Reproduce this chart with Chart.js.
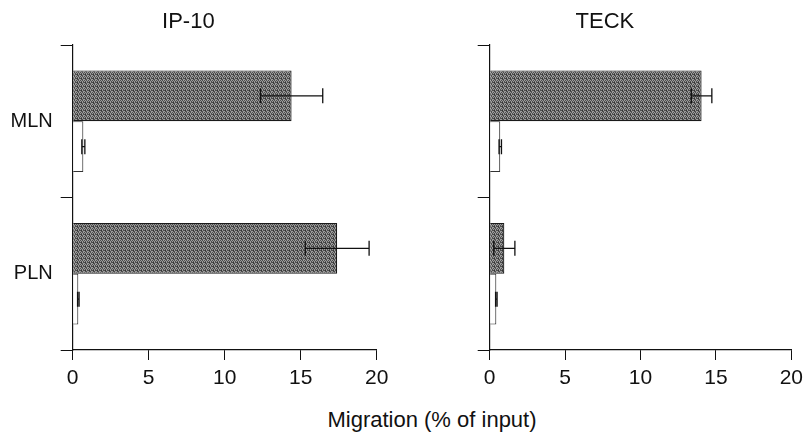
<!DOCTYPE html>
<html>
<head>
<meta charset="utf-8">
<script src="https://cdn.jsdelivr.net/npm/chart.js@4.4.1/dist/chart.umd.min.js"></script>
<style>
  html, body { margin: 0; padding: 0; background: #fff; overflow: hidden; }
  body { width: 809px; height: 433px; position: relative; font-family: "Liberation Sans", Arial, sans-serif; }
  canvas { position: absolute; top: 0; }
  #ipCanvas { left: 0; }
  #teckCanvas { left: 417px; }
  #xTitle { position: absolute; left: 0; width: 864px; top: 407px; text-align: center; font-size: 22px; color: #111; }
</style>
</head>
<body>
<canvas id="ipCanvas" width="404" height="400"></canvas>
<canvas id="teckCanvas" width="392" height="400"></canvas>
<div id="xTitle">Migration (% of input)</div>
<script>
// values (% of input)
const categories = ['MLN', 'PLN'];
const ip10Chemokine = [14.4, 17.4];
const ip10ChemokineErr = [2.05, 2.1];
const ip10Control = [0.7, 0.37];
const ip10ControlErr = [0.1, 0.05];
const teckChemokine = [14.05, 0.97];
const teckChemokineErr = [0.68, 0.7];
const teckControl = [0.7, 0.44];
const teckControlErr = [0.08, 0.05];
const xMin = 0, xMax = 20, xStep = 5;

// dithered grey, a bit like the halftone in the scan
function makeGreyPattern() {
    const c = document.createElement('canvas');
    c.width = 4; c.height = 4;
    const g = c.getContext('2d');
    g.fillStyle = '#9c9c9c';
    g.fillRect(0, 0, 4, 4);
    g.fillStyle = '#4e4e4e';
    [[0,0],[2,0],[1,1],[3,1],[0,2],[2,3],[1,3],[3,2]].forEach(p => g.fillRect(p[0], p[1], 1, 1));
    g.fillStyle = '#333';
    g.fillRect(1, 2, 1, 1);
    return g.createPattern(c, 'repeat');
}
const greyFill = makeGreyPattern();

const errorBars = {
    id: 'errorBars',
    afterDatasetsDraw(chart) {
        const ctx = chart.ctx;
        const xs = chart.scales.x;
        chart.data.datasets.forEach((ds, i) => {
            const meta = chart.getDatasetMeta(i);
            meta.data.forEach((bar, j) => {
                const v = ds.data[j], e = ds.errors[j];
                const x1 = xs.getPixelForValue(v - e);
                const x2 = xs.getPixelForValue(v + e);
                const y = bar.y;
                ctx.save();
                ctx.strokeStyle = '#111';
                ctx.lineWidth = 1.3;
                ctx.beginPath();
                ctx.moveTo(x1, y); ctx.lineTo(x2, y);
                ctx.moveTo(x1, y - 7.5); ctx.lineTo(x1, y + 7.5);
                ctx.moveTo(x2, y - 7.5); ctx.lineTo(x2, y + 7.5);
                ctx.stroke();
                ctx.restore();
            });
        });
    }
};

function makePanel(canvasId, title, chemo, chemoErr, ctrl, ctrlErr, showLabels, dashed, padRight) {
    return new Chart(document.getElementById(canvasId), {
        type: 'bar',
        data: {
            labels: categories,
            datasets: [{
                label: 'Chemokine',
                data: chemo,
                errors: chemoErr,
                backgroundColor: greyFill,
                borderColor: '#1a1a1a',
                borderWidth: 1.2,
                categoryPercentage: 0.667,
                barPercentage: 1.0
            }, {
                label: 'Control',
                data: ctrl,
                errors: ctrlErr,
                backgroundColor: '#ffffff',
                borderColor: '#333333',
                borderWidth: 1.1,
                categoryPercentage: 0.667,
                barPercentage: 1.0
            }]
        },
        options: {
            indexAxis: 'y',
            responsive: false,
            animation: false,
            devicePixelRatio: 1,
            layout: { padding: { left: 0, right: padRight, top: 0, bottom: 0 } },
            plugins: {
                legend: { display: false },
                tooltip: { enabled: false },
                title: {
                    display: true,
                    text: title,
                    color: '#111',
                    font: { family: '"Liberation Sans", Arial, sans-serif', size: 22, weight: 'normal' },
                    padding: { top: 9, bottom: 9.6 }
                }
            },
            scales: {
                x: {
                    type: 'linear',
                    min: xMin,
                    max: xMax,
                    afterFit: s => { s.height = 50; },
                    ticks: {
                        stepSize: xStep,
                        color: '#111',
                        padding: 6,
                        maxRotation: 0,
                        font: { family: '"Liberation Sans", Arial, sans-serif', size: 21 }
                    },
                    grid: { drawOnChartArea: false, tickLength: 10, color: '#111', lineWidth: 1 },
                    border: { display: true, color: '#111', width: 1.2 }
                },
                y: {
                    type: 'category',
                    offset: true,
                    afterFit: s => { s.width = 72.7; },
                    ticks: {
                        display: showLabels,
                        color: '#111',
                        padding: 8,
                        font: { family: '"Liberation Sans", Arial, sans-serif', size: 20 }
                    },
                    grid: { offset: true, drawOnChartArea: false, tickLength: 12, color: '#111', lineWidth: 1 },
                    border: { display: true, color: '#111', width: 1.2, dash: dashed ? [4, 2] : [] }
                }
            }
        },
        plugins: [errorBars]
    });
}

makePanel('ipCanvas', 'IP-10', ip10Chemokine, ip10ChemokineErr, ip10Control, ip10ControlErr, true, false, 27.3);
makePanel('teckCanvas', 'TECK', teckChemokine, teckChemokineErr, teckControl, teckControlErr, false, true, 16.3);
</script>
</body>
</html>
